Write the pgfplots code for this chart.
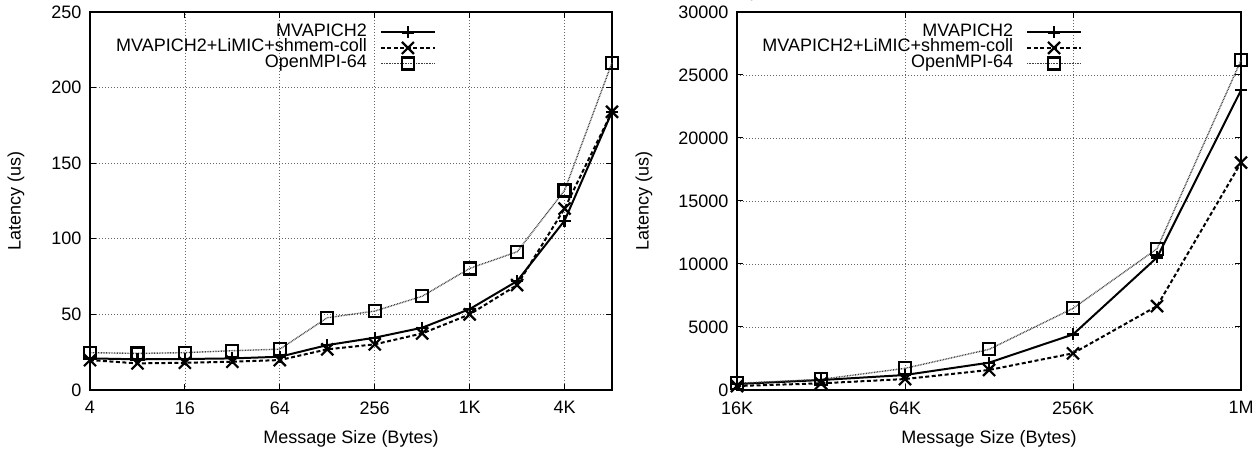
\documentclass[border=0pt]{standalone}
\usepackage{fontspec}
\setmainfont{Liberation Sans}
\usepackage{pgfplots}
\pgfplotsset{compat=1.18}
\tikzset{
  s1/.style={black, line width=2bp, solid, mark=+, mark size=6bp, mark options={solid, line width=2.2bp}},
  s2/.style={black, line width=2bp, dash pattern=on 4bp off 2.5bp, mark=x, mark size=8.5bp, mark options={solid, line width=2.2bp}},
  s3/.style={black!75, line width=1.4bp, dash pattern=on 0.8bp off 0.8bp, mark=square, mark size=6bp, mark options={solid, black, line width=2.2bp}},
}
\begin{document}
\begin{tikzpicture}[font=\fontsize{18bp}{21bp}\selectfont]
\useasboundingbox (0,0) rectangle (1258bp,451bp);
\begin{axis}[scale only axis, anchor=south west, height=378bp,
    xmode=log, log basis x=2, clip=false,
    axis line style={black, line width=1.3bp},
    tick style={black, line width=1bp}, major tick length=6bp,
    tick align=inside, tick pos=both,
    minor tick num=0,
    grid=major, grid style={black!60, line width=0.8bp, dash pattern=on 1bp off 2bp},
    xticklabel style={yshift=-8bp},
    yticklabel style={xshift=-5bp},
    legend cell align=right,
    legend plot pos=right,
    legend style={draw=none, fill=none, inner sep=0pt, anchor=north east,
      nodes={inner sep=1bp, text height=10.5bp, text depth=3bp},
      /tikz/every odd column/.append style={column sep=12bp}},
    legend image code/.code={\draw[mark repeat=2,mark phase=2] plot coordinates {(0bp,0bp)(27bp,0bp)(54bp,0bp)};},
    xlabel style={at={(axis description cs:0.5,0)}, anchor=center, yshift=-49bp},
    ylabel style={at={(axis description cs:-0.1418,0.5)}, anchor=center},
  at={(90bp,61bp)}, width=522bp,
  xmin=4, xmax=8192, ymin=0, ymax=250,
  xtick={4,16,64,256,1024,4096}, xticklabels={4,16,64,256,1K,4K},
  ytick={0,50,100,150,200,250}, yticklabels={0,50,100,150,200,250},
  xlabel={Message Size (Bytes)}, ylabel={Latency (us)},
  legend style={at={(axis description cs:0.663,0.967)}}]
\addplot[s1] coordinates {(4,20.9)(8,20.3)(16,20.5)(32,20.9)(64,22)(128,29.7)(256,34.6)(512,41.2)(1024,53.5)(2048,72)(4096,112)(8192,184)};
\addlegendentry{MVAPICH2}
\addplot[s2] coordinates {(4,19.8)(8,17.6)(16,18)(32,18.7)(64,19.8)(128,26.9)(256,30.2)(512,37.4)(1024,50)(2048,69.4)(4096,120)(8192,184)};
\addlegendentry{MVAPICH2+LiMIC+shmem-coll}
\addplot[s3] coordinates {(4,24.7)(8,24.2)(16,24.7)(32,26)(64,27)(128,47.8)(256,52.2)(512,62)(1024,80.4)(2048,91.4)(4096,132)(8192,216.5)};
\addlegendentry{OpenMPI-64}
\end{axis}
\begin{axis}[scale only axis, anchor=south west, height=378bp,
    xmode=log, log basis x=2, clip=false,
    axis line style={black, line width=1.3bp},
    tick style={black, line width=1bp}, major tick length=6bp,
    tick align=inside, tick pos=both,
    minor tick num=0,
    grid=major, grid style={black!60, line width=0.8bp, dash pattern=on 1bp off 2bp},
    xticklabel style={yshift=-8bp},
    yticklabel style={xshift=-5bp},
    legend cell align=right,
    legend plot pos=right,
    legend style={draw=none, fill=none, inner sep=0pt, anchor=north east,
      nodes={inner sep=1bp, text height=10.5bp, text depth=3bp},
      /tikz/every odd column/.append style={column sep=12bp}},
    legend image code/.code={\draw[mark repeat=2,mark phase=2] plot coordinates {(0bp,0bp)(27bp,0bp)(54bp,0bp)};},
    xlabel style={at={(axis description cs:0.5,0)}, anchor=center, yshift=-49bp},
    ylabel style={at={(axis description cs:-0.1845,0.5)}, anchor=center},
  at={(737bp,61bp)}, width=504bp,
  xmin=16384, xmax=1048576, ymin=0, ymax=30000,
  xtick={16384,65536,262144,1048576}, xticklabels={16K,64K,256K,1M},
  ytick={0,5000,10000,15000,20000,25000,30000}, yticklabels={0,5000,10000,15000,20000,25000,30000},
  xlabel={Message Size (Bytes)}, ylabel={Latency (us)},
  legend style={at={(axis description cs:0.685,0.967)}}]
\addplot[s1] coordinates {(16384,475)(32768,790)(65536,1190)(131072,2170)(262144,4410)(524288,10520)(1048576,23790)};
\addlegendentry{MVAPICH2}
\addplot[s2] coordinates {(16384,317)(32768,530)(65536,870)(131072,1590)(262144,2910)(524288,6660)(1048576,18050)};
\addlegendentry{MVAPICH2+LiMIC+shmem-coll}
\addplot[s3] coordinates {(16384,530)(32768,845)(65536,1720)(131072,3225)(262144,6480)(524288,11210)(1048576,26170)};
\addlegendentry{OpenMPI-64}
\end{axis}
\end{tikzpicture}
\end{document}
